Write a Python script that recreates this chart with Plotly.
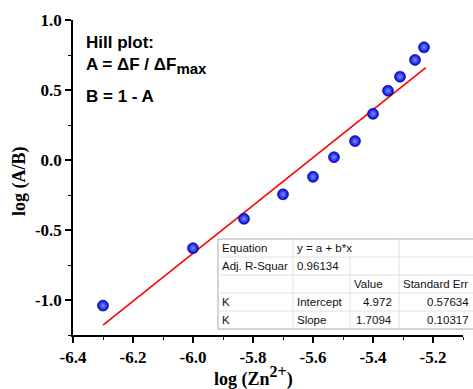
import plotly.graph_objects as go

# ---------------- data ----------------
log_zn = [-6.30, -6.00, -5.83, -5.70, -5.60, -5.53, -5.46, -5.40, -5.35, -5.31, -5.26, -5.23]
log_ab = [-1.04, -0.63, -0.42, -0.245, -0.12, 0.02, 0.135, 0.33, 0.495, 0.595, 0.715, 0.805]
fit_x = [-6.30, -5.224]
fit_y = [-1.18, 0.659]

x_tickvals = [-6.4, -6.2, -6.0, -5.8, -5.6, -5.4, -5.2]
x_ticktext = ["-6.4", "-6.2", "-6.0", "-5.8", "-5.6", "-5.4", "-5.2"]
y_tickvals = [-1.0, -0.5, 0.0, 0.5, 1.0]
y_ticktext = ["-1.0", "-0.5", "0.0", "0.5", "1.0"]

table_rows = [
    ["Equation", "y = a + b*x", "", ""],
    ["Adj. R-Squar", "0.96134", "", ""],
    ["", "", "Value", "Standard Err"],
    ["K", "Intercept", "4.972", "0.57634"],
    ["K", "Slope", "1.7094", "0.10317"],
]
note_lines = ["Hill plot:",
              "A = ΔF / ΔF<sub><span style=\"font-size:15px\">max</span></sub>",
              "B = 1 - A"]

# ---------------- layout geometry (pixels) ----------------
W, H = 473, 389
L, R, T, B = 73, 10, 20, 54
PW, PH = W - L - R, H - T - B


def px(xp):
    return (xp - L) / PW


def py(yp):
    return (H - B - yp) / PH


fig = go.Figure()
fig.add_trace(go.Scatter(x=fit_x, y=fit_y, mode="lines",
                         line=dict(color="#ff0000", width=1.6),
                         showlegend=False, hoverinfo="skip"))
fig.add_trace(go.Scatter(x=log_zn, y=log_ab, mode="markers",
                         marker=dict(size=11, color="#0000e0",
                                     line=dict(width=0.6, color="#000080"),
                                     gradient=dict(type="radial", color="#7f95ff")),
                         showlegend=False))

serif = "Liberation Serif, Times New Roman, serif"
sans = "Liberation Sans, Arial, sans-serif"

shapes = []
annotations = []

# table
tx = [218, 293, 350, 399, 474]
ty = [239, 257, 275, 293, 311, 329]
shapes.append(dict(type="rect", xref="paper", yref="paper",
                   x0=px(tx[0]), x1=px(tx[-1]), y0=py(ty[0]), y1=py(ty[-1]),
                   fillcolor="white", line=dict(color="#a8a8a8", width=1), layer="above"))
inner = dict(color="#e2e2e2", width=1)
for yy in ty[1:-1]:
    shapes.append(dict(type="line", xref="paper", yref="paper",
                       x0=px(tx[0]), x1=px(tx[-1]), y0=py(yy), y1=py(yy), line=inner, layer="above"))
for xx, ystart in [(tx[1], ty[0]), (tx[2], ty[1]), (tx[3], ty[0])]:
    shapes.append(dict(type="line", xref="paper", yref="paper",
                       x0=px(xx), x1=px(xx), y0=py(ystart), y1=py(ty[-1]), line=inner, layer="above"))

for r, row in enumerate(table_rows):
    yc = (ty[r] + ty[r + 1]) / 2
    for c, txt in enumerate(row):
        if not txt:
            continue
        right = r >= 3 and c >= 2
        if right:
            xpos = tx[c + 1] - (6 if c == 2 else 4)
            anchor = "right"
        else:
            xpos = tx[c] + 3
            anchor = "left"
        annotations.append(dict(text=txt, xref="paper", yref="paper",
                                x=px(xpos), y=py(yc), xanchor=anchor, yanchor="middle",
                                borderpad=0, showarrow=False,
                                font=dict(family=sans, size=11.5, color="#111111")))

# Hill plot note
for txt, yc in zip(note_lines, [43, 66, 96]):
    annotations.append(dict(text="<b>" + txt + "</b>", xref="paper", yref="paper",
                            x=px(84), y=py(yc), xanchor="left", yanchor="middle",
                            showarrow=False, font=dict(family=sans, size=17, color="black")))

# axis titles
annotations.append(dict(text="<b>log (Zn<sup><span style=\"font-size:16px\">2+</span></sup>)</b>",
                        xref="paper", yref="paper",
                        x=px(253), y=py(376), xanchor="center", yanchor="middle",
                        showarrow=False, font=dict(family=serif, size=18, color="black")))
annotations.append(dict(text="<b>log (A/B)</b>", xref="paper", yref="paper",
                        x=px(19), y=py(181), xanchor="center", yanchor="middle", textangle=-90,
                        showarrow=False, font=dict(family=serif, size=18, color="black")))

axis_common = dict(showline=True, linecolor="black", linewidth=1.5, showgrid=False,
                   zeroline=False, ticks="outside", ticklen=6, tickwidth=1.5, tickcolor="black",
                   tickfont=dict(family=serif, size=17, color="black"))

fig.update_xaxes(range=[-6.4, -5.1], tickvals=x_tickvals,
                 ticktext=["<b>" + t + "</b>" for t in x_ticktext],
                 minor=dict(ticks="outside", ticklen=3.5, tickwidth=1.2, tickcolor="black", dtick=0.1,
                            tick0=-6.4),
                 **axis_common)
fig.update_yaxes(range=[-1.25, 1.0], tickvals=y_tickvals,
                 ticktext=["<b>" + t + "</b>" for t in y_ticktext],
                 minor=dict(ticks="outside", ticklen=3.5, tickwidth=1.2, tickcolor="black", dtick=0.25,
                            tick0=0),
                 **axis_common)

fig.update_layout(width=W, height=H, margin=dict(l=L, r=R, t=T, b=B),
                  paper_bgcolor="white", plot_bgcolor="white",
                  shapes=shapes, annotations=annotations)

fig.write_html("out.html")
